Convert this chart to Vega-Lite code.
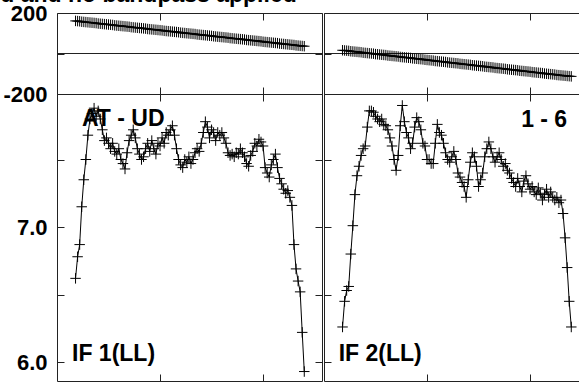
{
"$schema":"https://vega.github.io/schema/vega-lite/v6.json",
"padding":{"left":-125,"top":-17,"right":0,"bottom":0},
"background":"white",
"title":{"text":"Uncalibrated and no bandpass applied","anchor":"start","frame":"group","dx":-182,"offset":-23,"baseline":"alphabetic","font":"Liberation Sans","fontSize":23,"fontWeight":"bold","color":"black"},
"datasets":{
"if1":[
{"ch":9,"amp":6.62,"phase":161},{"ch":10,"amp":6.78,"phase":160},{"ch":11,"amp":6.87,"phase":159},{"ch":12,"amp":7.15,"phase":157},{"ch":13,"amp":7.35,"phase":156},{"ch":14,"amp":7.50,"phase":155},{"ch":15,"amp":7.68,"phase":154},{"ch":16,"amp":7.80,"phase":153},{"ch":17,"amp":7.84,"phase":152},{"ch":18,"amp":7.88,"phase":151},
{"ch":19,"amp":7.82,"phase":150},{"ch":20,"amp":7.86,"phase":148},{"ch":21,"amp":7.80,"phase":147},{"ch":22,"amp":7.72,"phase":146},{"ch":23,"amp":7.64,"phase":145},{"ch":24,"amp":7.66,"phase":144},{"ch":25,"amp":7.62,"phase":143},{"ch":26,"amp":7.58,"phase":142},{"ch":27,"amp":7.62,"phase":141},{"ch":28,"amp":7.56,"phase":139},
{"ch":29,"amp":7.54,"phase":138},{"ch":30,"amp":7.58,"phase":137},{"ch":31,"amp":7.50,"phase":136},{"ch":32,"amp":7.47,"phase":135},{"ch":33,"amp":7.43,"phase":134},{"ch":34,"amp":7.55,"phase":133},{"ch":35,"amp":7.64,"phase":132},{"ch":36,"amp":7.68,"phase":130},{"ch":37,"amp":7.72,"phase":129},{"ch":38,"amp":7.66,"phase":128},
{"ch":39,"amp":7.58,"phase":127},{"ch":40,"amp":7.54,"phase":126},{"ch":41,"amp":7.50,"phase":125},{"ch":42,"amp":7.52,"phase":124},{"ch":43,"amp":7.58,"phase":123},{"ch":44,"amp":7.62,"phase":121},{"ch":45,"amp":7.56,"phase":120},{"ch":46,"amp":7.64,"phase":119},{"ch":47,"amp":7.58,"phase":118},{"ch":48,"amp":7.54,"phase":117},
{"ch":49,"amp":7.62,"phase":116},{"ch":50,"amp":7.60,"phase":115},{"ch":51,"amp":7.66,"phase":114},{"ch":52,"amp":7.62,"phase":112},{"ch":53,"amp":7.70,"phase":111},{"ch":54,"amp":7.68,"phase":110},{"ch":55,"amp":7.72,"phase":109},{"ch":56,"amp":7.75,"phase":108},{"ch":57,"amp":7.68,"phase":107},{"ch":58,"amp":7.58,"phase":106},
{"ch":59,"amp":7.50,"phase":105},{"ch":60,"amp":7.46,"phase":103},{"ch":61,"amp":7.44,"phase":102},{"ch":62,"amp":7.50,"phase":101},{"ch":63,"amp":7.48,"phase":100},{"ch":64,"amp":7.52,"phase":99},{"ch":65,"amp":7.47,"phase":98},{"ch":66,"amp":7.50,"phase":97},{"ch":67,"amp":7.55,"phase":96},{"ch":68,"amp":7.58,"phase":94},
{"ch":69,"amp":7.56,"phase":93},{"ch":70,"amp":7.62,"phase":92},{"ch":71,"amp":7.70,"phase":91},{"ch":72,"amp":7.78,"phase":90},{"ch":73,"amp":7.74,"phase":89},{"ch":74,"amp":7.66,"phase":88},{"ch":75,"amp":7.72,"phase":87},{"ch":76,"amp":7.70,"phase":85},{"ch":77,"amp":7.64,"phase":84},{"ch":78,"amp":7.70,"phase":83},
{"ch":79,"amp":7.68,"phase":82},{"ch":80,"amp":7.70,"phase":81},{"ch":81,"amp":7.66,"phase":80},{"ch":82,"amp":7.62,"phase":79},{"ch":83,"amp":7.55,"phase":78},{"ch":84,"amp":7.53,"phase":76},{"ch":85,"amp":7.54,"phase":75},{"ch":86,"amp":7.52,"phase":74},{"ch":87,"amp":7.55,"phase":73},{"ch":88,"amp":7.54,"phase":72},
{"ch":89,"amp":7.58,"phase":71},{"ch":90,"amp":7.55,"phase":70},{"ch":91,"amp":7.52,"phase":69},{"ch":92,"amp":7.47,"phase":67},{"ch":93,"amp":7.45,"phase":66},{"ch":94,"amp":7.53,"phase":65},{"ch":95,"amp":7.56,"phase":64},{"ch":96,"amp":7.62,"phase":63},{"ch":97,"amp":7.60,"phase":62},{"ch":98,"amp":7.65,"phase":61},
{"ch":99,"amp":7.63,"phase":60},{"ch":100,"amp":7.60,"phase":58},{"ch":101,"amp":7.44,"phase":57},{"ch":102,"amp":7.40,"phase":56},{"ch":103,"amp":7.37,"phase":55},{"ch":104,"amp":7.46,"phase":54},{"ch":105,"amp":7.50,"phase":53},{"ch":106,"amp":7.54,"phase":52},{"ch":107,"amp":7.44,"phase":51},{"ch":108,"amp":7.36,"phase":49},
{"ch":109,"amp":7.32,"phase":48},{"ch":110,"amp":7.28,"phase":47},{"ch":111,"amp":7.25,"phase":46},{"ch":112,"amp":7.27,"phase":45},{"ch":113,"amp":7.22,"phase":44},{"ch":114,"amp":7.16,"phase":43},{"ch":115,"amp":6.87,"phase":42},{"ch":116,"amp":6.69,"phase":40},{"ch":117,"amp":6.60,"phase":39},{"ch":118,"amp":6.52,"phase":38},
{"ch":119,"amp":6.22,"phase":37},{"ch":120,"amp":5.93,"phase":36}
],
"if2":[
{"ch":9,"amp":6.26,"phase":16},{"ch":10,"amp":6.45,"phase":15},{"ch":11,"amp":6.53,"phase":14},{"ch":12,"amp":6.56,"phase":13},{"ch":13,"amp":6.80,"phase":11},{"ch":14,"amp":7.01,"phase":10},{"ch":15,"amp":7.24,"phase":9},{"ch":16,"amp":7.38,"phase":8},{"ch":17,"amp":7.45,"phase":7},{"ch":18,"amp":7.53,"phase":6},
{"ch":19,"amp":7.58,"phase":4},{"ch":20,"amp":7.60,"phase":3},{"ch":21,"amp":7.74,"phase":2},{"ch":22,"amp":7.86,"phase":1},{"ch":23,"amp":7.86,"phase":0},{"ch":24,"amp":7.85,"phase":-1},{"ch":25,"amp":7.82,"phase":-3},{"ch":26,"amp":7.80,"phase":-4},{"ch":27,"amp":7.78,"phase":-5},{"ch":28,"amp":7.80,"phase":-6},
{"ch":29,"amp":7.76,"phase":-7},{"ch":30,"amp":7.75,"phase":-8},{"ch":31,"amp":7.72,"phase":-10},{"ch":32,"amp":7.66,"phase":-11},{"ch":33,"amp":7.60,"phase":-12},{"ch":34,"amp":7.50,"phase":-13},{"ch":35,"amp":7.42,"phase":-14},{"ch":36,"amp":7.53,"phase":-15},{"ch":37,"amp":7.75,"phase":-17},{"ch":38,"amp":7.90,"phase":-18},
{"ch":39,"amp":7.78,"phase":-19},{"ch":40,"amp":7.70,"phase":-20},{"ch":41,"amp":7.66,"phase":-21},{"ch":42,"amp":7.58,"phase":-22},{"ch":43,"amp":7.62,"phase":-24},{"ch":44,"amp":7.74,"phase":-25},{"ch":45,"amp":7.81,"phase":-26},{"ch":46,"amp":7.78,"phase":-27},{"ch":47,"amp":7.72,"phase":-28},{"ch":48,"amp":7.62,"phase":-29},
{"ch":49,"amp":7.60,"phase":-31},{"ch":50,"amp":7.50,"phase":-32},{"ch":51,"amp":7.50,"phase":-33},{"ch":52,"amp":7.47,"phase":-34},{"ch":53,"amp":7.47,"phase":-35},{"ch":54,"amp":7.62,"phase":-37},{"ch":55,"amp":7.76,"phase":-38},{"ch":56,"amp":7.70,"phase":-39},{"ch":57,"amp":7.68,"phase":-40},{"ch":58,"amp":7.62,"phase":-41},
{"ch":59,"amp":7.55,"phase":-42},{"ch":60,"amp":7.50,"phase":-44},{"ch":61,"amp":7.48,"phase":-45},{"ch":62,"amp":7.52,"phase":-46},{"ch":63,"amp":7.56,"phase":-47},{"ch":64,"amp":7.50,"phase":-48},{"ch":65,"amp":7.40,"phase":-49},{"ch":66,"amp":7.37,"phase":-51},{"ch":67,"amp":7.33,"phase":-52},{"ch":68,"amp":7.30,"phase":-53},
{"ch":69,"amp":7.22,"phase":-54},{"ch":70,"amp":7.35,"phase":-55},{"ch":71,"amp":7.48,"phase":-56},{"ch":72,"amp":7.55,"phase":-58},{"ch":73,"amp":7.52,"phase":-59},{"ch":74,"amp":7.45,"phase":-60},{"ch":75,"amp":7.30,"phase":-61},{"ch":76,"amp":7.35,"phase":-62},{"ch":77,"amp":7.40,"phase":-63},{"ch":78,"amp":7.52,"phase":-65},
{"ch":79,"amp":7.58,"phase":-66},{"ch":80,"amp":7.63,"phase":-67},{"ch":81,"amp":7.58,"phase":-68},{"ch":82,"amp":7.52,"phase":-69},{"ch":83,"amp":7.48,"phase":-71},{"ch":84,"amp":7.52,"phase":-72},{"ch":85,"amp":7.55,"phase":-73},{"ch":86,"amp":7.50,"phase":-74},{"ch":87,"amp":7.45,"phase":-75},{"ch":88,"amp":7.47,"phase":-76},
{"ch":89,"amp":7.42,"phase":-78},{"ch":90,"amp":7.40,"phase":-79},{"ch":91,"amp":7.36,"phase":-80},{"ch":92,"amp":7.33,"phase":-81},{"ch":93,"amp":7.30,"phase":-82},{"ch":94,"amp":7.36,"phase":-83},{"ch":95,"amp":7.30,"phase":-85},{"ch":96,"amp":7.26,"phase":-86},{"ch":97,"amp":7.34,"phase":-87},{"ch":98,"amp":7.38,"phase":-88},
{"ch":99,"amp":7.32,"phase":-89},{"ch":100,"amp":7.28,"phase":-90},{"ch":101,"amp":7.30,"phase":-92},{"ch":102,"amp":7.26,"phase":-93},{"ch":103,"amp":7.24,"phase":-94},{"ch":104,"amp":7.29,"phase":-95},{"ch":105,"amp":7.25,"phase":-96},{"ch":106,"amp":7.20,"phase":-97},{"ch":107,"amp":7.24,"phase":-99},{"ch":108,"amp":7.28,"phase":-100},
{"ch":109,"amp":7.22,"phase":-101},{"ch":110,"amp":7.26,"phase":-102},{"ch":111,"amp":7.22,"phase":-103},{"ch":112,"amp":7.20,"phase":-104},{"ch":113,"amp":7.22,"phase":-106},{"ch":114,"amp":7.18,"phase":-107},{"ch":115,"amp":7.20,"phase":-108},{"ch":116,"amp":7.10,"phase":-109},{"ch":117,"amp":6.92,"phase":-110},{"ch":118,"amp":6.70,"phase":-111},
{"ch":119,"amp":6.45,"phase":-112},{"ch":120,"amp":6.26,"phase":-113}
]
},
"spacing":0,
"hconcat":[
{"vconcat":[
{"width":265,"height":81,"data":{"name":"if1"},
 "layer":[
  {"data":{"values":[{}]},"mark":{"type":"rule","color":"#222","strokeWidth":1},"encoding":{"y":{"datum":0,"type":"quantitative","axis":null}}},
  {"mark":{"type":"line","color":"black","strokeWidth":1},"encoding":{"x":{"field":"ch","type":"quantitative","scale":{"domain":[0,128.6],"nice":false,"zero":false},"axis":{"orient":"bottom","values":[50,100],"labels":false,"title":null}},"y":{"field":"phase","type":"quantitative","scale":{"domain":[-200,200],"nice":false,"zero":false},"axis":{"orient":"left","values":[-200,0,200],"labelExpr":"datum.value === 0 ? '' : '' + datum.value","title":null}}}},
  {"mark":{"type":"point","shape":"M-1,0L1,0M0,-1L0,1","size":110,"filled":false,"color":"black","strokeWidth":1,"opacity":1},"encoding":{"x":{"field":"ch","type":"quantitative","axis":{"orient":"top","values":[50,100],"labels":false,"title":null}},"y":{"field":"phase","type":"quantitative","axis":{"orient":"right","values":[-200,0,200],"labels":false,"title":null}}}}
 ],
 "resolve":{"axis":{"x":"independent","y":"independent"}}},
{"width":265,"height":287,"data":{"name":"if1"},
 "layer":[
  {"mark":{"type":"line","color":"black","strokeWidth":1},"encoding":{"x":{"field":"ch","type":"quantitative","scale":{"domain":[0,128.6],"nice":false,"zero":false},"axis":{"orient":"bottom","values":[50,100],"labels":false,"title":null}},"y":{"field":"amp","type":"quantitative","scale":{"domain":[5.86,7.985],"nice":false,"zero":false},"axis":{"orient":"left","values":[6,6.5,7,7.5],"labelExpr":"datum.value % 1 === 0 ? format(datum.value, '.1f') : ''","title":null}}}},
  {"mark":{"type":"point","shape":"M-1,0L1,0M0,-1L0,1","size":110,"filled":false,"color":"black","strokeWidth":1,"opacity":1},"encoding":{"x":{"field":"ch","type":"quantitative","axis":{"orient":"top","values":[50,100],"labels":false,"title":null}},"y":{"field":"amp","type":"quantitative","axis":{"orient":"right","values":[6,6.5,7,7.5],"labels":false,"title":null}}}},
  {"data":{"values":[{}]},"mark":{"type":"text","align":"left","baseline":"alphabetic","font":"Liberation Sans","fontSize":23,"fontWeight":"bold","color":"black"},"encoding":{"x":{"datum":12.1,"type":"quantitative","axis":null},"y":{"datum":7.75,"type":"quantitative","axis":null},"text":{"value":"AT - UD"}}},
  {"data":{"values":[{}]},"mark":{"type":"text","align":"left","baseline":"alphabetic","font":"Liberation Sans","fontSize":23,"fontWeight":"bold","color":"black"},"encoding":{"x":{"datum":7.3,"type":"quantitative","axis":null},"y":{"datum":6.007,"type":"quantitative","axis":null},"text":{"value":"IF 1(LL)"}}}
 ],
 "resolve":{"axis":{"x":"independent","y":"independent"}}}
],"spacing":0,"bounds":"flush"},
{"vconcat":[
{"width":265,"height":81,"data":{"name":"if2"},
 "layer":[
  {"data":{"values":[{}]},"mark":{"type":"rule","color":"#222","strokeWidth":1},"encoding":{"y":{"datum":0,"type":"quantitative","axis":null}}},
  {"mark":{"type":"line","color":"black","strokeWidth":1},"encoding":{"x":{"field":"ch","type":"quantitative","scale":{"domain":[0,128.6],"nice":false,"zero":false},"axis":{"orient":"bottom","values":[50,100],"labels":false,"title":null}},"y":{"field":"phase","type":"quantitative","scale":{"domain":[-200,200],"nice":false,"zero":false},"axis":{"orient":"left","values":[-200,0,200],"labels":false,"title":null}}}},
  {"mark":{"type":"point","shape":"M-1,0L1,0M0,-1L0,1","size":110,"filled":false,"color":"black","strokeWidth":1,"opacity":1},"encoding":{"x":{"field":"ch","type":"quantitative","axis":{"orient":"top","values":[50,100],"labels":false,"title":null}},"y":{"field":"phase","type":"quantitative","axis":{"orient":"right","values":[-200,0,200],"labels":false,"title":null}}}}
 ],
 "resolve":{"axis":{"x":"independent","y":"independent"}}},
{"width":265,"height":287,"data":{"name":"if2"},
 "layer":[
  {"mark":{"type":"line","color":"black","strokeWidth":1},"encoding":{"x":{"field":"ch","type":"quantitative","scale":{"domain":[0,128.6],"nice":false,"zero":false},"axis":{"orient":"bottom","values":[50,100],"labels":false,"title":null}},"y":{"field":"amp","type":"quantitative","scale":{"domain":[5.86,7.985],"nice":false,"zero":false},"axis":{"orient":"left","values":[6,6.5,7,7.5],"labels":false,"title":null}}}},
  {"mark":{"type":"point","shape":"M-1,0L1,0M0,-1L0,1","size":110,"filled":false,"color":"black","strokeWidth":1,"opacity":1},"encoding":{"x":{"field":"ch","type":"quantitative","axis":{"orient":"top","values":[50,100],"labels":false,"title":null}},"y":{"field":"amp","type":"quantitative","axis":{"orient":"right","values":[6,6.5,7,7.5],"labels":false,"title":null}}}},
  {"data":{"values":[{}]},"mark":{"type":"text","align":"right","baseline":"alphabetic","font":"Liberation Sans","fontSize":23,"fontWeight":"bold","color":"black"},"encoding":{"x":{"datum":118,"type":"quantitative","axis":null},"y":{"datum":7.74,"type":"quantitative","axis":null},"text":{"value":"1 - 6"}}},
  {"data":{"values":[{}]},"mark":{"type":"text","align":"left","baseline":"alphabetic","font":"Liberation Sans","fontSize":23,"fontWeight":"bold","color":"black"},"encoding":{"x":{"datum":7.1,"type":"quantitative","axis":null},"y":{"datum":6.007,"type":"quantitative","axis":null},"text":{"value":"IF 2(LL)"}}}
 ],
 "resolve":{"axis":{"x":"independent","y":"independent"}}}
],"spacing":0,"bounds":"flush"}
],
"config":{
 "view":{"stroke":"#222","strokeWidth":1},
 "axis":{"domain":false,"grid":false,"ticks":true,"tickSize":-7,"tickColor":"#222","tickWidth":1,"labelFont":"Liberation Sans","labelFontSize":22,"labelFontWeight":"bold","labelColor":"black","labelPadding":17,"labelOverlap":false,"labelFlush":false,"labelBound":false}
}
}
